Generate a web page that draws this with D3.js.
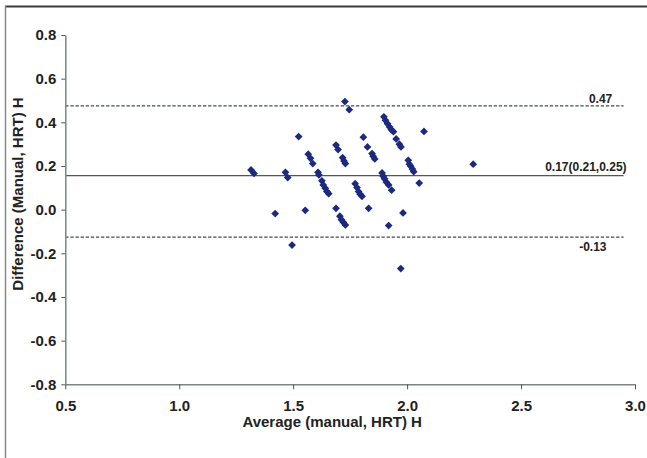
<!DOCTYPE html>
<html>
<head>
<meta charset="utf-8">
<script src="https://cdn.jsdelivr.net/npm/d3@7"></script>
<style>
  html, body { margin: 0; padding: 0; background: #fff; }
  svg { display: block; font-family: "Liberation Sans", Arial, sans-serif; }
</style>
</head>
<body>
<svg id="chart" width="647" height="458"></svg>
<script>
// ---- data ----
const avgValues = [1.315, 1.328, 1.421, 1.466, 1.476, 1.495, 1.524, 1.553, 1.566, 1.576,
  1.586, 1.609, 1.613, 1.626, 1.632, 1.641, 1.648, 1.656, 1.688, 1.697,
  1.688, 1.705, 1.712, 1.720, 1.729, 1.717, 1.723, 1.729, 1.727, 1.746,
  1.772, 1.780, 1.787, 1.794, 1.802, 1.808, 1.826, 1.846, 1.851, 1.858,
  1.831, 1.890, 1.895, 1.901, 1.909, 1.919, 1.932, 1.898, 1.905, 1.914,
  1.923, 1.931, 1.940, 1.952, 1.966, 1.973, 1.972, 1.982, 1.919, 2.005,
  2.010, 2.016, 2.023, 2.029, 2.053, 2.074, 2.290];
const diffValues = [0.182, 0.166, -0.018, 0.171, 0.147, -0.162, 0.335, -0.003, 0.254, 0.235,
  0.211, 0.171, 0.159, 0.132, 0.113, 0.098, 0.083, 0.073, 0.296, 0.275,
  0.006, -0.030, -0.046, -0.058, -0.070, 0.238, 0.223, 0.211, 0.495, 0.458,
  0.119, 0.101, 0.083, 0.071, 0.061, 0.332, 0.287, 0.257, 0.245, 0.232,
  0.006, 0.168, 0.153, 0.141, 0.126, 0.113, 0.089, 0.425, 0.409, 0.394,
  0.379, 0.366, 0.357, 0.324, 0.300, 0.287, -0.270, -0.015, -0.073, 0.226,
  0.208, 0.199, 0.186, 0.174, 0.122, 0.358, 0.208];
const refLineValues = [0.475, 0.156, -0.126];
const refLineLabels = ["0.47", "0.17(0.21,0.25)", "-0.13"];
const refLineDashed = [true, false, true];
const xTicks = [0.5, 1.0, 1.5, 2.0, 2.5, 3.0];
const yTicks = [-0.8, -0.6, -0.4, -0.2, 0.0, 0.2, 0.4, 0.6, 0.8];
const xTitle = "Average (manual, HRT) H";
const yTitle = "Difference (Manual, HRT) H";

// ---- layout ----
const svg = d3.select("#chart");
const x = d3.scaleLinear().domain([0.5, 3.0]).range([65.3, 635]);
const y = d3.scaleLinear().domain([-0.8, 0.8]).range([384.3, 35]);

// outer frame
svg.append("line").attr("x1", 5).attr("x2", 647).attr("y1", 6.5).attr("y2", 6.5)
  .attr("stroke", "#3a3a3a").attr("stroke-width", 2);
svg.append("line").attr("x1", 5.5).attr("x2", 5.5).attr("y1", 6).attr("y2", 458)
  .attr("stroke", "#8a8a8a").attr("stroke-width", 1.5);

// reference lines
const lineEnd = 2.95;
refLineValues.forEach((v, i) => {
  svg.append("line")
    .attr("x1", x(0.5)).attr("x2", x(lineEnd))
    .attr("y1", y(v)).attr("y2", y(v))
    .attr("stroke", refLineDashed[i] ? "#3f4d55" : "#5a5550")
    .attr("stroke-width", refLineDashed[i] ? 1.3 : 1.2)
    .attr("stroke-dasharray", refLineDashed[i] ? "3.3,1.8" : null);
});

// labels of reference lines
const labelPos = [
  {x: 2.849, dy: -2.5, anchor: "middle"},
  {x: 2.963, dy: -5, anchor: "end"},
  {x: 2.815, dy: 14, anchor: "middle"}
];
refLineValues.forEach((v, i) => {
  svg.append("text")
    .attr("x", x(labelPos[i].x))
    .attr("y", y(v) + labelPos[i].dy)
    .attr("text-anchor", labelPos[i].anchor)
    .attr("font-size", "12px").attr("font-weight", "bold")
    .attr("fill", "#222")
    .text(refLineLabels[i]);
});

// axes
const xAxis = d3.axisBottom(x).tickValues(xTicks).tickFormat(d => d.toFixed(1))
  .tickSizeInner(5).tickSizeOuter(0).tickPadding(11);
const yAxis = d3.axisLeft(y).tickValues(yTicks).tickFormat(d => d.toFixed(1))
  .tickSizeInner(4).tickSizeOuter(0).tickPadding(5);

const gx = svg.append("g").attr("transform", `translate(0,${y(-0.8)})`).call(xAxis);
const gy = svg.append("g").attr("transform", `translate(${x(0.5)},0)`).call(yAxis);
[gx, gy].forEach(g => {
  g.select(".domain").attr("stroke", "#7c8484").attr("stroke-width", 1.5);
  g.selectAll(".tick line").attr("stroke", "#555").attr("stroke-width", 1);
  g.selectAll(".tick text").attr("font-size", "15px").attr("font-weight", "bold")
    .attr("fill", "#222").attr("font-family", "'Liberation Sans', Arial, sans-serif");
});

// points
const pts = avgValues.map((a, i) => ({a, d: diffValues[i]}));
const sym = d3.symbol().type(d3.symbolSquare).size(30);
svg.append("g").selectAll("path").data(pts).join("path")
  .attr("d", sym)
  .attr("transform", p => `translate(${x(p.a)},${y(p.d)}) rotate(45)`)
  .attr("fill", "#1b2a7e");

// titles
svg.append("text")
  .attr("x", (x(0.5) + x(3.0)) / 2 - 18).attr("y", 427)
  .attr("text-anchor", "middle")
  .attr("font-size", "15px").attr("font-weight", "bold").attr("fill", "#222")
  .text(xTitle);
svg.append("text")
  .attr("transform", `translate(23,194) rotate(-90)`)
  .attr("text-anchor", "middle")
  .attr("font-size", "15px").attr("font-weight", "bold").attr("fill", "#222")
  .text(yTitle);
</script>
</body>
</html>
